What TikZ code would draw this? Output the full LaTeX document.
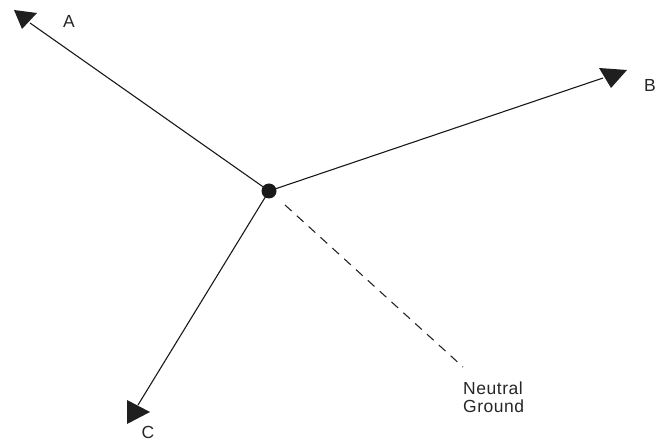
\documentclass[tikz,border=0pt]{standalone}
\usepackage{fontspec}
\setmainfont{Liberation Sans}[LetterSpace=3]
\begin{document}
\begin{tikzpicture}[x=1pt,y=-1pt,
  wire/.style={line width=1.1pt,black!90},
  head/.style={fill=black!88,draw=none},
  lbl/.style={font=\fontsize{17.5}{18}\selectfont,text=black!85,inner sep=0pt},
  dashwire/.style={line width=1.1pt,black!85,dash pattern=on 9pt off 7pt}]
\useasboundingbox (0,0) rectangle (668,443);
\coordinate (O) at (269,191);
\coordinate (Aend) at (30,23);
\coordinate (Bend) at (603,78);
\coordinate (Cend) at (138,405);
\coordinate (Nend) at (463,367);
\coordinate (Nstart) at (285,205);
\draw[wire] (O) -- (Aend);
\draw[wire] (O) -- (Bend);
\draw[wire] (O) -- (Cend);
\draw[dashwire] (Nstart) -- (Nend);
\fill[head] (14,10) -- (37,13) -- (22,29) -- cycle;
\fill[head] (599,68) -- (627,70) -- (611,88) -- cycle;
\fill[head] (127,400) -- (127,424) -- (150,412) -- cycle;
\fill[black!90] (O) circle (7.5);
\node[lbl] (A) at (69,21) {A};
\node[lbl] (B) at (650,85) {B};
\node[lbl] (C) at (148,432) {C};
\node[lbl,align=left,anchor=north west] (N) at (463,382) {Neutral\\Ground};
\end{tikzpicture}
\end{document}
